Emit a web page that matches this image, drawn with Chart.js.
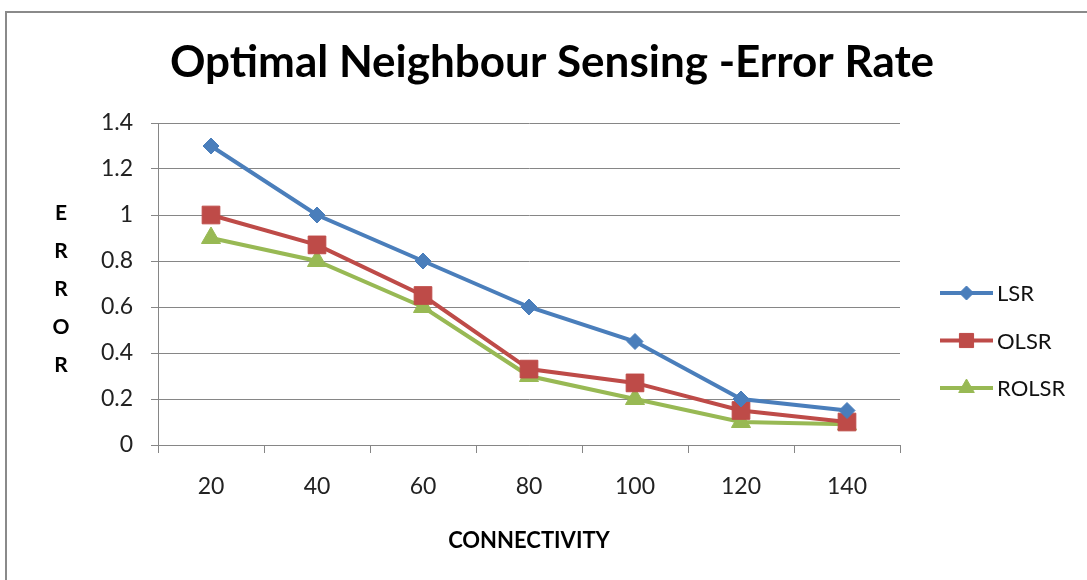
<!DOCTYPE html>
<html>
<head>
<meta charset="utf-8">
<script src="https://cdn.jsdelivr.net/npm/chart.js@4.4.1/dist/chart.umd.min.js"></script>
<style>
  html, body { margin: 0; padding: 0; background: #fff; overflow: hidden; }
  #wrap { position: relative; width: 1087px; height: 580px; }
  #frame { position: absolute; left: 5px; top: 11px; width: 1200px; height: 700px; border: 2px solid #8a8a8a; }
  #chart { position: absolute; left: 0; top: 0; }
</style>
</head>
<body>
<div id="wrap">
  <div id="frame"></div>
  <canvas id="chart" width="1087" height="580"></canvas>
</div>
<script>
const categories = ['20', '40', '60', '80', '100', '120', '140'];
const lsrValues = [1.3, 1.0, 0.8, 0.6, 0.45, 0.2, 0.15];
const olsrValues = [1.0, 0.87, 0.65, 0.33, 0.27, 0.15, 0.1];
const rolsrValues = [0.9, 0.8, 0.6, 0.3, 0.2, 0.1, 0.09];
const yTitleLetters = ['E', 'R', 'R', 'O', 'R'];
const chartTitle = 'Optimal Neighbour Sensing -Error Rate';

const FONT = 'Lato, "Open Sans", sans-serif';
const GRID = '#868686';

// title centred on the whole frame, not on the plot
const frameTitle = {
    id: 'frameTitle',
    afterDraw(chart) {
        const ctx = chart.ctx;
        ctx.save();
        ctx.fillStyle = '#000';
        ctx.font = 'bold 44px ' + FONT;
        ctx.textAlign = 'center';
        ctx.textBaseline = 'middle';
        ctx.fillText(chartTitle, 552, 63);
        ctx.restore();
    }
};

// legend drawn as line + marker, like the spreadsheet original
const lineLegend = {
    id: 'lineLegend',
    afterDraw(chart) {
        const ctx = chart.ctx;
        const x0 = 940, x1 = 993, yStart = 293, gap = 47.5;
        chart.data.datasets.forEach((ds, i) => {
            const y = yStart + i * gap;
            ctx.save();
            ctx.strokeStyle = ds.borderColor;
            ctx.lineWidth = 4;
            ctx.beginPath();
            ctx.moveTo(x0, y);
            ctx.lineTo(x1, y);
            ctx.stroke();
            ctx.fillStyle = ds.backgroundColor;
            ctx.strokeStyle = ds.borderColor;
            ctx.lineWidth = 1;
            Chart.helpers.drawPoint(ctx, { pointStyle: ds.pointStyle, radius: ds.legendRadius, borderWidth: 1 }, (x0 + x1) / 2, y);
            ctx.fillStyle = '#111';
            ctx.font = '22px ' + FONT;
            ctx.textAlign = 'left';
            ctx.textBaseline = 'middle';
            ctx.fillText(ds.label, x1 + 4, y + 1);
            ctx.restore();
        });
    }
};

// stacked letters of the y axis title
const stackedYTitle = {
    id: 'stackedYTitle',
    afterDraw(chart) {
        const ctx = chart.ctx;
        ctx.save();
        ctx.fillStyle = '#000';
        ctx.font = 'bold 21px ' + FONT;
        ctx.textAlign = 'center';
        ctx.textBaseline = 'middle';
        yTitleLetters.forEach((ch, i) => ctx.fillText(ch, 61, 213 + i * 38));
        ctx.restore();
    }
};

new Chart(document.getElementById('chart'), {
    type: 'line',
    data: {
        labels: categories,
        datasets: [
            { label: 'LSR', data: lsrValues, borderColor: '#4A7EBB', backgroundColor: '#4A7EBB',
              pointStyle: 'rectRot', pointRadius: 8, legendRadius: 7 },
            { label: 'OLSR', data: olsrValues, borderColor: '#BE4B48', backgroundColor: '#BE4B48',
              pointStyle: 'rect', pointRadius: 12.5, legendRadius: 10 },
            { label: 'ROLSR', data: rolsrValues, borderColor: '#98B954', backgroundColor: '#98B954',
              pointStyle: 'triangle', pointRadius: 11, legendRadius: 9 }
        ].map(d => Object.assign({ borderWidth: 4, pointBorderWidth: 1, tension: 0, fill: false }, d))
    },
    options: {
        responsive: false,
        animation: false,
        events: [],
        layout: { padding: { left: 0, right: 187, top: 123, bottom: 0 } },
        plugins: {
            legend: { display: false },
            tooltip: { enabled: false },
            title: { display: false }
        },
        scales: {
            x: {
                offset: true,
                afterFit: s => { s.height = 135; },
                grid: { offset: true, drawOnChartArea: false, tickLength: 8, color: GRID },
                border: { color: GRID },
                ticks: { color: '#222', padding: 20, font: { family: FONT, size: 23 } },
                title: {
                    display: true,
                    text: 'CONNECTIVITY',
                    color: '#000',
                    font: { family: FONT, size: 22, weight: 'bold', lineHeight: 1.2 },
                    padding: { top: 0, bottom: 26 }
                }
            },
            y: {
                min: 0,
                max: 1.4,
                afterFit: s => { s.width = 158; },
                grid: { color: GRID, tickLength: 7 },
                border: { color: GRID },
                ticks: {
                    stepSize: 0.2,
                    color: '#222',
                    padding: 18,
                    font: { family: FONT, size: 23 },
                    callback: v => String(Math.round(v * 10) / 10)
                }
            }
        }
    },
    plugins: [frameTitle, lineLegend, stackedYTitle]
});
</script>
</body>
</html>
